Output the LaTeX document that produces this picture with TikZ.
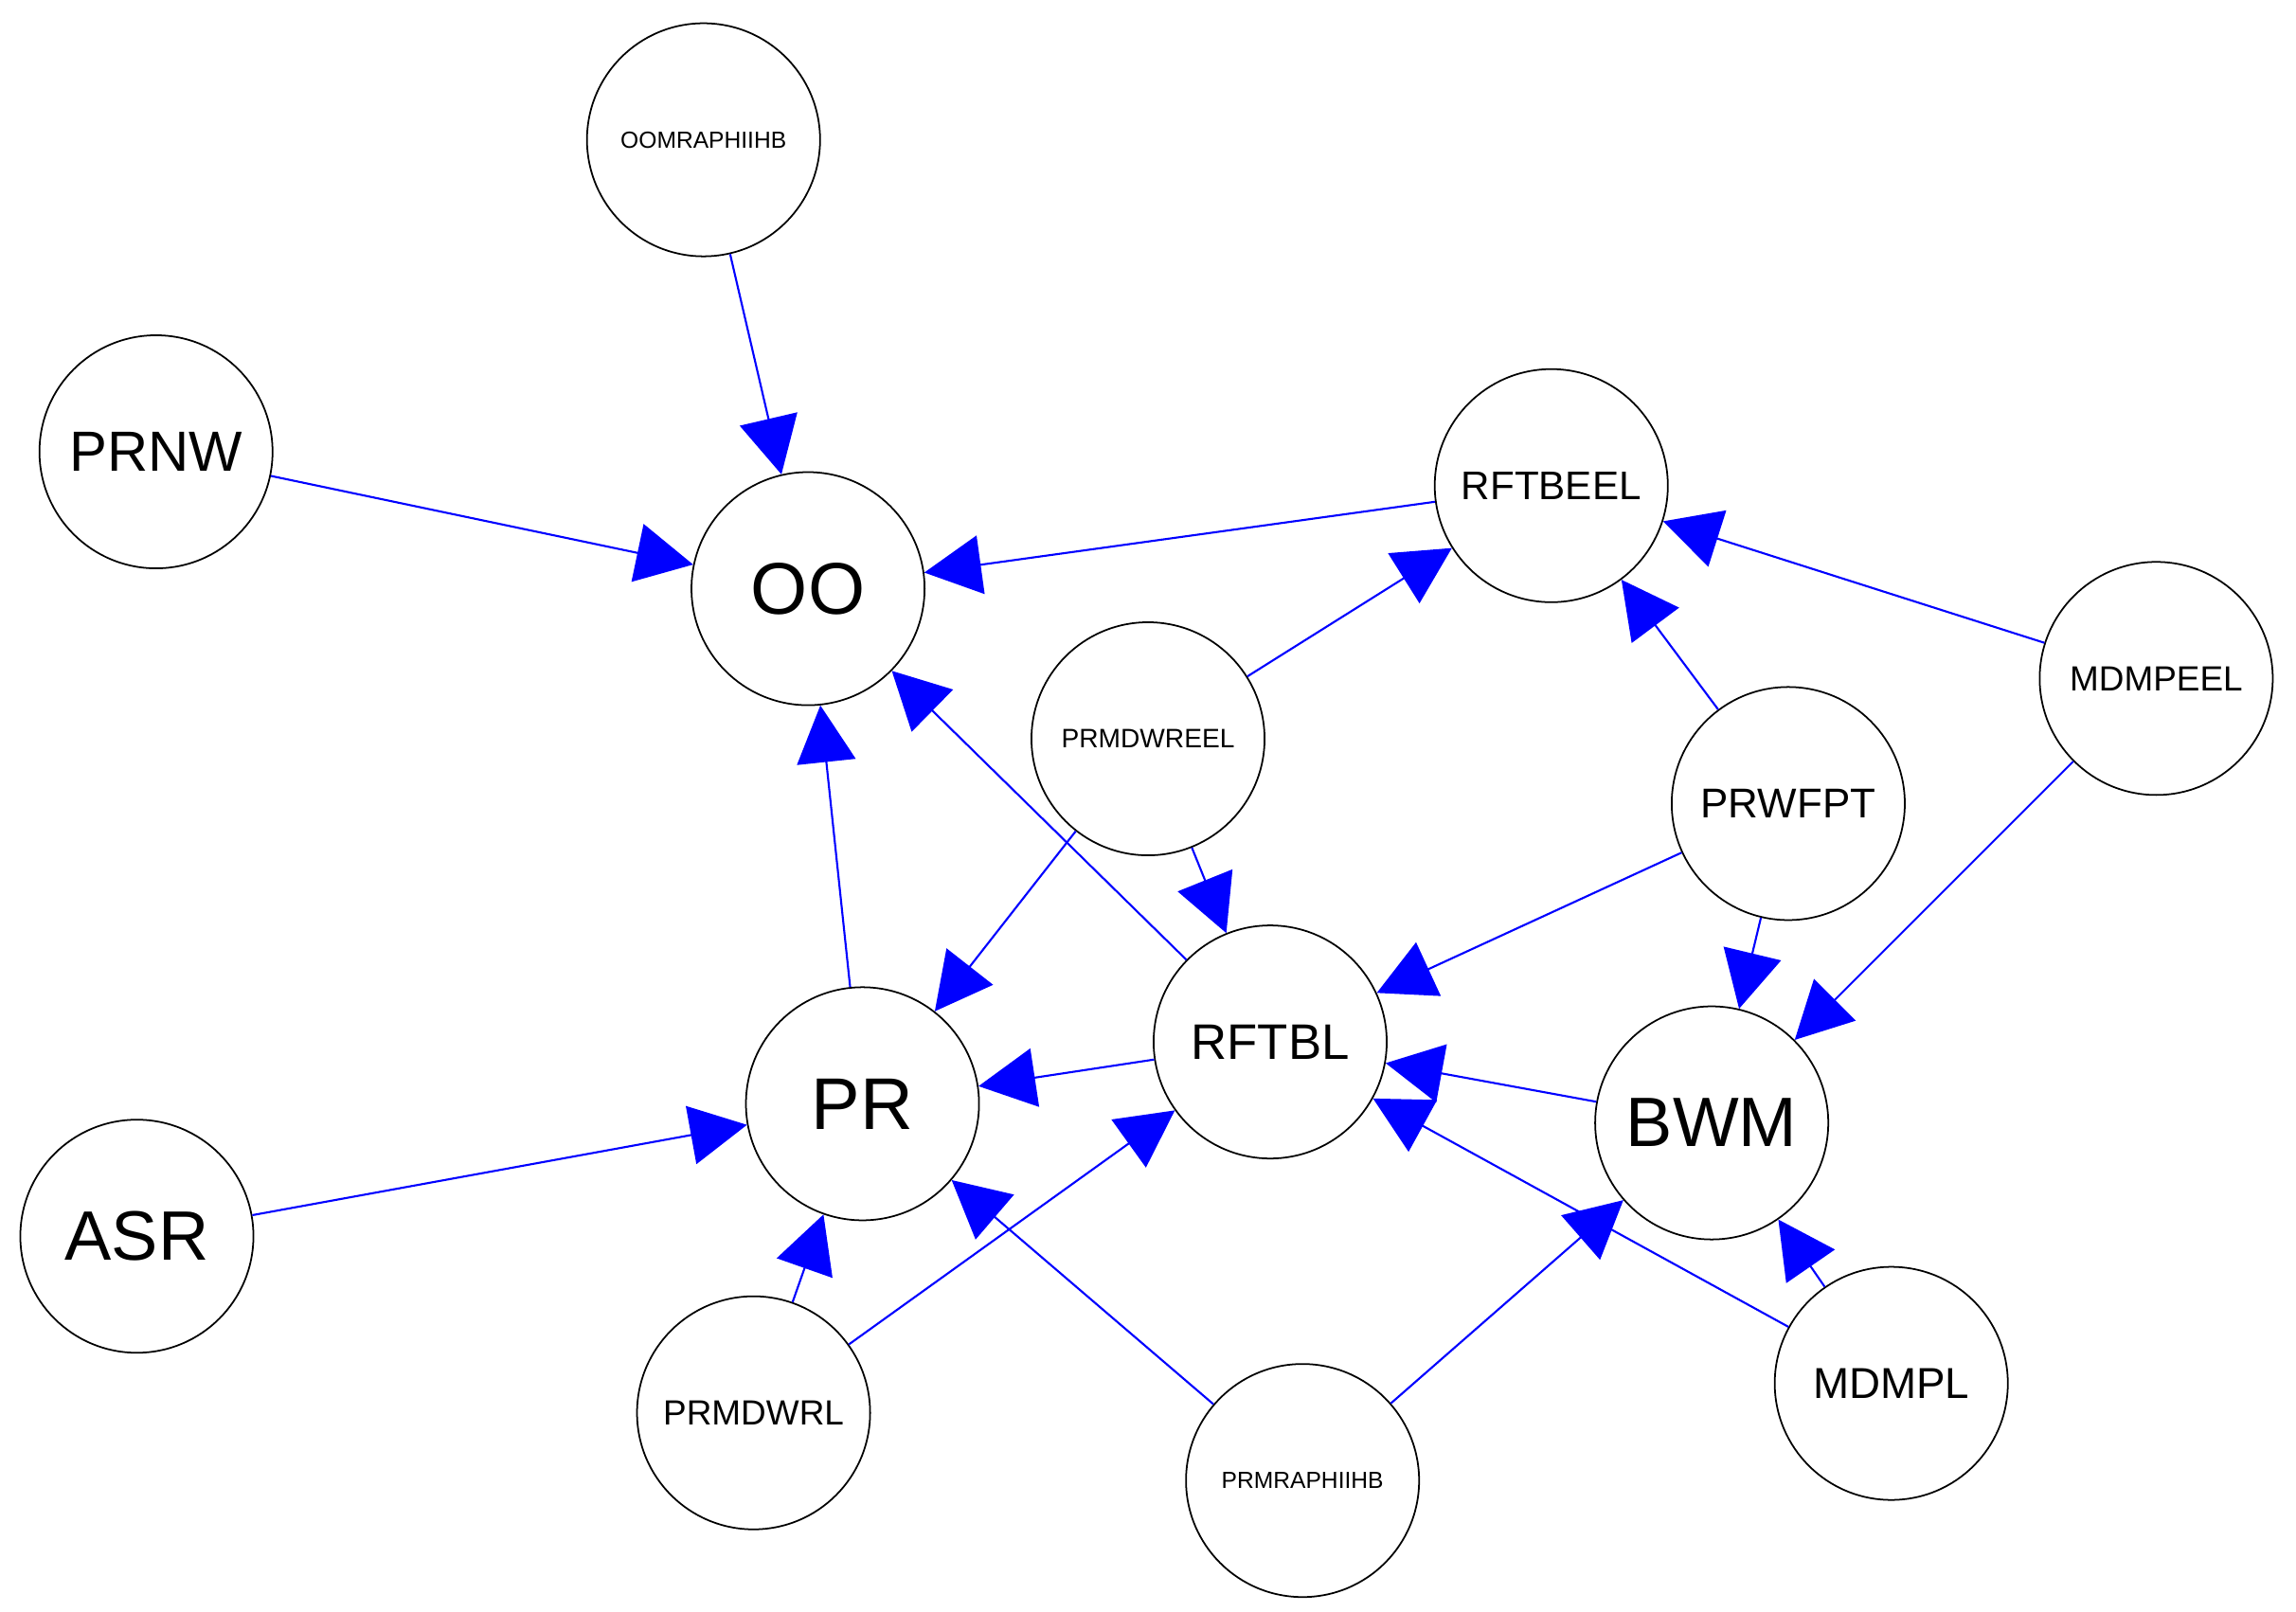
\documentclass[tikz,border=0pt]{standalone}
\usepackage{fontspec}
\setmainfont{Liberation Sans}
\usetikzlibrary{arrows.meta}
\begin{document}
\begin{tikzpicture}[x=0.01554cm,y=-0.01554cm,
 n/.style={circle,draw=black,line width=0.5pt,minimum size=2.46cm,inner sep=0pt,fill=white},
 e/.style={draw=blue,line width=0.6pt,-{Triangle[length=0.6cm,width=0.62cm]}}]
\useasboundingbox (0,0) rectangle (1560,1095);
\node[n,font=\fontsize{7}{8}\selectfont] (omr) at (478,95) {OOMRAPHIIHB};
\node[n,font=\fontsize{17}{20}\selectfont] (prnw) at (106,307) {PRNW};
\node[n,font=\fontsize{22}{26}\selectfont] (oo) at (549,400) {OO};
\node[n,font=\fontsize{12}{14}\selectfont] (rfte) at (1054,330) {RFTBEEL};
\node[n,font=\fontsize{10.5}{12}\selectfont] (mdme) at (1465,461) {MDMPEEL};
\node[n,font=\fontsize{8}{10}\selectfont] (pmwe) at (780,502) {PRMDWREEL};
\node[n,font=\fontsize{12.5}{14}\selectfont] (prw) at (1215,546) {PRWFPT};
\node[n,font=\fontsize{15}{18}\selectfont] (rftbl) at (863,708) {RFTBL};
\node[n,font=\fontsize{22}{26}\selectfont] (pr) at (586,750) {PR};
\node[n,font=\fontsize{21}{25}\selectfont] (bwm) at (1163,763) {BWM};
\node[n,font=\fontsize{21}{25}\selectfont] (asr) at (93,840) {ASR};
\node[n,font=\fontsize{10.5}{12}\selectfont] (pmwl) at (512,960) {PRMDWRL};
\node[n,font=\fontsize{7}{8}\selectfont] (pmr) at (885,1006) {PRMRAPHIIHB};
\node[n,font=\fontsize{13}{15}\selectfont] (mdml) at (1285,940) {MDMPL};
\path[e] (omr) -- (oo);
\path[e] (prnw) -- (oo);
\path[e] (rfte) -- (oo);
\path[e] (pr) -- (oo);
\path[e] (rftbl) -- (oo);
\path[e] (pmwe) -- (rfte);
\path[e] (pmwe) -- (pr);
\path[e] (pmwe) -- (rftbl);
\path[e] (prw) -- (rfte);
\path[e] (mdme) -- (rfte);
\path[e] (mdme) -- (bwm);
\path[e] (prw) -- (rftbl);
\path[e] (prw) -- (bwm);
\path[e] (rftbl) -- (pr);
\path[e] (bwm) -- (rftbl);
\path[e] (mdml) -- (rftbl);
\path[e] (mdml) -- (bwm);
\path[e] (asr) -- (pr);
\path[e] (pmwl) -- (pr);
\path[e] (pmwl) -- (rftbl);
\path[e] (pmr) -- (pr);
\path[e] (pmr) -- (bwm);
\end{tikzpicture}
\end{document}
